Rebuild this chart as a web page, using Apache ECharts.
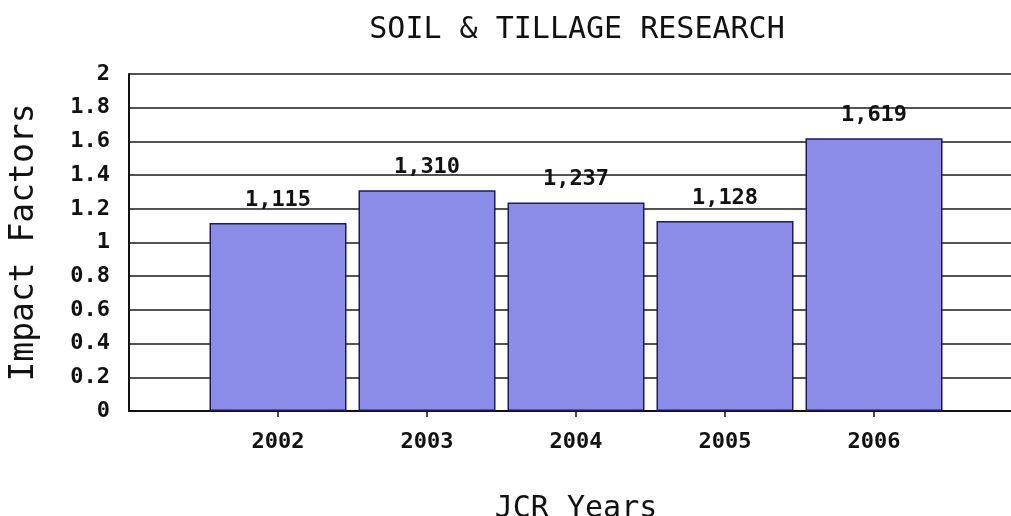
<!DOCTYPE html>
<html>
<head>
<meta charset="utf-8">
<style>
  html, body { margin: 0; padding: 0; background: #ffffff; }
  #chart { width: 1011px; height: 516px; }
</style>
<script src="https://cdn.jsdelivr.net/npm/echarts@6/dist/echarts.min.js"></script>
</head>
<body>
<div id="chart"></div>
<script>
const chartTitle = 'SOIL & TILLAGE RESEARCH';
const xAxisTitle = 'JCR Years';
const yAxisTitle = 'Impact Factors';
const years = ['2002', '2003', '2004', '2005', '2006'];
const impactFactors = [1.115, 1.310, 1.237, 1.128, 1.619];
const yMin = 0, yMax = 2, yStep = 0.2;

const FONT = 'DejaVu Sans Mono';
// pad one empty slot on each side of the category axis
const categories = [''].concat(years, ['']);
const barData = ['-'].concat(impactFactors, ['-']);

const chart = echarts.init(document.getElementById('chart'), null, { renderer: 'canvas' });
chart.setOption({
  backgroundColor: '#ffffff',
  animation: false,
  title: {
    text: chartTitle,
    left: 572,
    textAlign: 'center',
    top: 10,
    textStyle: { fontFamily: FONT, fontSize: 30, fontWeight: 'normal', color: '#111' }
  },
  grid: { left: 129, top: 74, width: 894, height: 337, containLabel: false, outerBoundsMode: 'none' },
  xAxis: {
    type: 'category',
    data: categories,
    boundaryGap: false,
    name: xAxisTitle,
    nameLocation: 'middle',
    nameGap: 83,
    nameTextStyle: { fontFamily: FONT, fontSize: 30, color: '#111' },
    axisLine: { lineStyle: { color: '#111', width: 2 } },
    axisTick: {
      show: true, length: 6, inside: false,
      interval: function (i, v) { return v !== ''; },
      lineStyle: { color: '#111', width: 1.5 }
    },
    axisLabel: {
      margin: 20,
      interval: 0,
      fontFamily: FONT, fontSize: 22, fontWeight: 'bold', color: '#111'
    },
    splitLine: { show: false }
  },
  yAxis: {
    type: 'value',
    min: yMin, max: yMax, interval: yStep,
    name: yAxisTitle,
    nameLocation: 'middle',
    nameGap: 88,
    nameRotate: 90,
    nameTextStyle: { fontFamily: FONT, fontSize: 33, color: '#111' },
    axisLine: { show: true, lineStyle: { color: '#111', width: 2 } },
    axisTick: { show: false },
    axisLabel: {
      margin: 19,
      fontFamily: FONT, fontSize: 22, fontWeight: 'bold', color: '#111',
      formatter: function (v) { return String(Math.round(v * 10) / 10); }
    },
    splitLine: { show: true, lineStyle: { color: '#1a1a1a', width: 1.6 } }
  },
  series: [{
    type: 'bar',
    data: barData,
    barWidth: 137,
    itemStyle: { color: '#8b8be8', borderColor: '#1c1c55', borderWidth: 1.5 },
    label: {
      show: true,
      position: 'top',
      distance: 12,
      fontFamily: FONT, fontSize: 22, fontWeight: 'bold', color: '#111',
      formatter: function (p) { return Number(p.value).toFixed(3).replace('.', ','); }
    }
  }]
});
</script>
</body>
</html>
